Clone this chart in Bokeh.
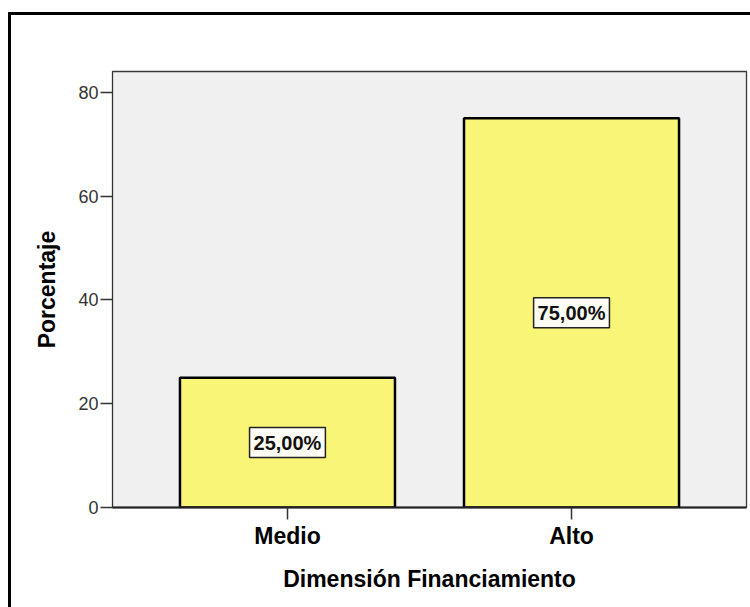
from bokeh.plotting import figure
from bokeh.models import ColumnDataSource, FactorRange, Range1d, FixedTicker, InlineStyleSheet
from bokeh.core.properties import value
from bokeh.embed import file_html
from bokeh.resources import INLINE

# Distribución porcentual por nivel de la dimensión
categorias = ["Medio", "Alto"]
porcentajes = [25.0, 75.0]
ticks_y = [0, 20, 40, 60, 80]

etiquetas = [f"{v:.2f}".replace(".", ",") + "%" for v in porcentajes]
mitades = [v / 2 for v in porcentajes]

source = ColumnDataSource(dict(cat=categorias, pct=porcentajes, mid=mitades, label=etiquetas))

FONT = "Liberation Sans"

p = figure(
    width=750, height=607,
    x_range=FactorRange(*categorias, range_padding=0.116, range_padding_units="absolute"),
    y_range=Range1d(0, 84),
    output_backend="svg", toolbar_location=None,
    min_border_left=112, min_border_right=4, min_border_top=71, min_border_bottom=100,
)

p.background_fill_color = "#f0f0f0"
p.border_fill_color = "white"
p.outline_line_color = "#3a3a3a"
p.outline_line_width = 1.3
p.xgrid.visible = False
p.ygrid.visible = False

p.vbar(x="cat", top="pct", width=0.757, source=source,
       fill_color="#f9f577", line_color="black", line_width=2.5)

p.text(x="cat", y="mid", text="label", source=source,
       text_align="center", text_baseline="middle",
       text_font=value(FONT), text_font_style="bold", text_font_size="20px",
       text_color="#111111",
       background_fill_color="#fcfcf4", border_line_color="#222222",
       border_line_width=1.5, padding=4)

# Eje Y
p.yaxis.ticker = FixedTicker(ticks=ticks_y)
p.yaxis.minor_tick_line_color = None
p.yaxis.major_tick_in = 0
p.yaxis.major_tick_out = 12
p.yaxis.major_tick_line_color = "#333333"
p.yaxis.major_tick_line_width = 1.5
p.yaxis.axis_line_color = "#333333"
p.yaxis.major_label_text_font = FONT
p.yaxis.major_label_text_font_size = "18px"
p.yaxis.major_label_text_color = "#333333"
p.yaxis.major_label_standoff = 2
p.yaxis.axis_label = "Porcentaje"
p.yaxis.axis_label_text_font = FONT
p.yaxis.axis_label_text_font_style = "bold"
p.yaxis.axis_label_text_font_size = "23px"
p.yaxis.axis_label_text_color = "black"
p.yaxis.axis_label_standoff = 15

# Eje X
p.xaxis.major_tick_in = 0
p.xaxis.major_tick_out = 12
p.xaxis.major_tick_line_color = "#333333"
p.xaxis.major_tick_line_width = 1.5
p.xaxis.axis_line_color = "#222222"
p.xaxis.axis_line_width = 2
p.xaxis.major_label_text_font = FONT
p.xaxis.major_label_text_font_style = "bold"
p.xaxis.major_label_text_font_size = "23px"
p.xaxis.major_label_text_color = "black"
p.xaxis.major_label_standoff = 3
p.xaxis.axis_label = "Dimensión Financiamiento"
p.xaxis.axis_label_text_font = FONT
p.xaxis.axis_label_text_font_style = "bold"
p.xaxis.axis_label_text_font_size = "23px"
p.xaxis.axis_label_text_color = "black"
p.xaxis.axis_label_standoff = 14

# Marco exterior (bordes superior e izquierdo)
p.stylesheets = [InlineStyleSheet(css="""
:host { position: relative; }
:host::after {
  content: ""; position: absolute;
  left: 8px; top: 12px; right: 0; bottom: 0;
  border-left: 3.5px solid #000; border-top: 3.5px solid #000;
  pointer-events: none;
}
""")]

open("out.html", "w").write(file_html(p, INLINE))
